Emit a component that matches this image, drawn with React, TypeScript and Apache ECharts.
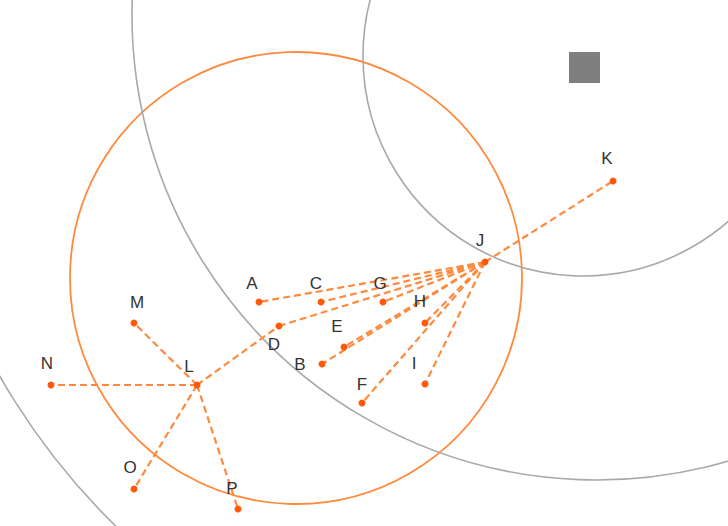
import React, { useEffect, useRef } from "react";
import * as echarts from "echarts";

// Node positions (plot units; x to the right, y downward)
const nodeNames = ["A", "B", "C", "D", "E", "F", "G", "H", "I", "J", "K", "L", "M", "N", "O", "P"];
const nodeX = [259, 322, 321, 279, 344, 362, 383, 425, 425, 485, 613, 197, 134, 51, 134, 238];
const nodeY = [302, 364, 302, 326, 347, 403, 302, 323, 384, 262, 181, 385, 323, 385, 489, 509];

// Links (source -> target)
const linkSource = ["J", "J", "J", "J", "J", "J", "J", "J", "J", "J", "L", "L", "L", "L", "L"];
const linkTarget = ["A", "C", "G", "H", "E", "B", "F", "I", "D", "K", "M", "N", "O", "P", "D"];

// Rings: centre x, centre y, radius, kind (0 = orange, 1 = gray)
const ringX = [296, 583, 597, 592];
const ringY = [278, 56, 15, 38];
const ringR = [226, 220, 465, 682];
const ringKind = [0, 1, 1, 1];

// Square marker
const squareX = [584.5];
const squareY = [67.5];

// Label offsets (styling) relative to each node
const labelOffsets: Record<string, [number, number]> = {
  A: [-7, -19], B: [-22, 0], C: [-5, -19], D: [-5, 18], E: [-7, -21], F: [0, -19],
  G: [-3, -19], H: [-5, -22], I: [-11, -21], J: [-5, -22], K: [-6, -23], L: [-8, -19],
  M: [3, -21], N: [-4, -22], O: [-4, -22], P: [-6, -21],
};

export default function App() {
  const ref = useRef<HTMLDivElement>(null);
  useEffect(() => {
    if (!ref.current) return;
    const chart = echarts.init(ref.current, undefined, { renderer: "svg" });
    const idx: Record<string, number> = {};
    nodeNames.forEach((n, i) => (idx[n] = i));

    const ringData = ringX.map((x, i) => [x, ringY[i], ringR[i], ringKind[i]]);
    const linkData = linkSource.map((s, i) => {
      const a = idx[s];
      const b = idx[linkTarget[i]];
      return { coords: [[nodeX[a], nodeY[a]], [nodeX[b], nodeY[b]]] };
    });
    const nodeData = nodeNames.map((n, i) => ({
      name: n,
      value: [nodeX[i], nodeY[i]],
      label: { offset: labelOffsets[n] },
    }));

    chart.setOption({
      animation: false,
      backgroundColor: "#ffffff",
      grid: { left: 0, right: 0, top: 0, bottom: 0 },
      xAxis: { type: "value", min: 0, max: 728, show: false },
      yAxis: { type: "value", min: 0, max: 526, inverse: true, show: false },
      series: [
        {
          type: "custom",
          z: 1,
          clip: true,
          data: ringData,
          renderItem: (params: any, api: any) => {
            const c = api.coord([api.value(0), api.value(1)]);
            const r = api.size([api.value(2), 0])[0];
            const kind = api.value(3);
            return {
              type: "circle",
              shape: { cx: c[0], cy: c[1], r },
              style: {
                fill: "none",
                stroke: kind === 0 ? "#ff8a3d" : "#a9a9a9",
                lineWidth: kind === 0 ? 1.8 : 1.6,
              },
            };
          },
        },
        {
          type: "scatter",
          z: 2,
          symbol: "rect",
          symbolSize: 31,
          itemStyle: { color: "#7f7f7f", opacity: 1 },
          data: squareX.map((x, i) => [x, squareY[i]]),
        },
        {
          type: "lines",
          coordinateSystem: "cartesian2d",
          z: 3,
          lineStyle: { type: [7, 4], width: 2.2, color: "#ff8a3d", opacity: 1 },
          data: linkData,
        },
        {
          type: "scatter",
          z: 4,
          symbolSize: 7,
          itemStyle: { color: "#ff5a0a", opacity: 1 },
          label: {
            show: true,
            position: "inside",
            formatter: "{b}",
            color: "#333333",
            fontSize: 17,
            fontFamily: "Liberation Sans, Arial, sans-serif",
          },
          data: nodeData,
        },
      ],
    });
    return () => chart.dispose();
  }, []);
  return (
    <div
      ref={ref}
      style={{ position: "fixed", left: 0, top: 0, width: 728, height: 526 }}
    />
  );
}
